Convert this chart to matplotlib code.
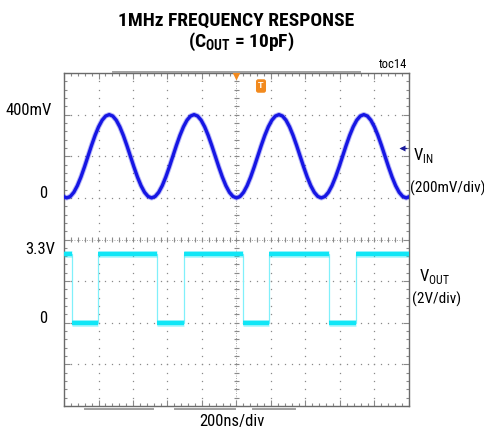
import numpy as np
import matplotlib
matplotlib.use('Agg')
import matplotlib.pyplot as plt
from matplotlib import transforms as mtransforms
from matplotlib import font_manager
from matplotlib.lines import Line2D

# pick a narrow sans font if one is installed, otherwise shrink Liberation Sans
NARROW = None
for cand in ['Liberation Sans Narrow', 'Roboto Condensed', 'Arial Narrow',
             'Nimbus Sans Narrow']:
    try:
        font_manager.findfont(font_manager.FontProperties(family=cand),
                              fallback_to_default=False)
        NARROW = cand
        break
    except Exception:
        pass
if NARROW:
    FONT = [NARROW, 'Liberation Sans', 'DejaVu Sans']
    K = 1.0
else:
    FONT = ['Liberation Sans', 'DejaVu Sans']
    K = 0.84
plt.rcParams['font.family'] = FONT

# ---------------- data ----------------
# V_IN trace: time (ns) and voltage (mV), 200mV/div, 200ns/div
sine_t = [-4.5,
          16, 36.5, 57, 77.5, 98, 118.5, 139, 159.5, 180, 200.5, 221, 241.5,
          262, 282.5, 303, 323.5, 344, 364.5, 385, 405.5, 426, 446.5, 467, 487.5,
          508, 528.5, 549, 569.5, 590, 610.5, 631, 651.5, 672, 692.5, 713, 733.5,
          754, 774.5, 795, 815.5, 836, 856.5, 877, 897.5, 918, 938.5, 959, 979.5,
          1000, 1020.5, 1041, 1061.5, 1082, 1102.5, 1123, 1143.5, 1164, 1184.5, 1205, 1225.5,
          1246, 1266.5, 1287, 1307.5, 1328, 1348.5, 1369, 1389.5, 1410, 1430.5, 1451, 1471.5,
          1492, 1512.5, 1533, 1553.5, 1574, 1594.5, 1615, 1635.5, 1656, 1676.5, 1697, 1717.5,
          1738, 1758.5, 1779, 1799.5, 1820, 1840.5, 1861, 1881.5, 1902, 1922.5, 1943, 1963.5,
          1984, 2004.5]
sine_mv = [6.8,
           0, 6.8, 26.8, 58.6, 100, 148.2, 200, 251.8, 300, 341.4, 373.2, 393.2,
           400, 393.2, 373.2, 341.4, 300, 251.8, 200, 148.2, 100, 58.6, 26.8, 6.8,
           0, 6.8, 26.8, 58.6, 100, 148.2, 200, 251.8, 300, 341.4, 373.2, 393.2,
           400, 393.2, 373.2, 341.4, 300, 251.8, 200, 148.2, 100, 58.6, 26.8, 6.8,
           0, 6.8, 26.8, 58.6, 100, 148.2, 200, 251.8, 300, 341.4, 373.2, 393.2,
           400, 393.2, 373.2, 341.4, 300, 251.8, 200, 148.2, 100, 58.6, 26.8, 6.8,
           0, 6.8, 26.8, 58.6, 100, 148.2, 200, 251.8, 300, 341.4, 373.2, 393.2,
           400, 393.2, 373.2, 341.4, 300, 251.8, 200, 148.2, 100, 58.6, 26.8, 6.8,
           0, 6.8]

# V_OUT trace: transition times (ns) and levels (V), 2V/div
out_edges = [0, 45, 199, 541, 696, 1036, 1190, 1535, 1691, 2000]
out_levels = [3.3, 0, 3.3, 0, 3.3, 0, 3.3, 0, 3.3]

in_labels = [(400, '400mV'), (0, '0')]
out_labels = [(3.3, '3.3V'), (0, '0')]

# ---------------- figure ----------------
W, H = 485, 433
fig = plt.figure(figsize=(W / 100, H / 100), dpi=100)


def fx(px):
    return px / W


def fy(py):
    return 1 - py / H


L, T, R, B = 64, 73, 409, 406
rect = [fx(L), fy(B), fx(R) - fx(L), fy(T) - fy(B)]

# graticule axes (in divisions)
ax = fig.add_axes(rect)
ax.set_xlim(0, 10)
ax.set_ylim(0, 8)
gcol = '#8a8a8a'
for s in ax.spines.values():
    s.set_color('#6a6a6a')
    s.set_linewidth(1.0)
ax.set_xticks(np.arange(0, 10.01, 1))
ax.set_yticks(np.arange(0, 8.01, 1))
ax.set_xticks(np.arange(0, 10.01, 0.2), minor=True)
ax.set_yticks(np.arange(0, 8.01, 0.2), minor=True)
ax.tick_params(which='both', direction='in', top=True, right=True,
               labelbottom=False, labelleft=False, color=gcol, width=0.8)
ax.tick_params(which='major', length=4)
ax.tick_params(which='minor', length=2.5)

sub_x = np.arange(0, 10.01, 0.2)
sub_y = np.arange(0, 8.01, 0.2)
for gx in range(1, 10):
    ax.plot(np.full_like(sub_y, gx), sub_y, ls='none', marker='s', ms=0.9,
            mec='none', mfc=gcol)
for gy in range(1, 8):
    ax.plot(sub_x, np.full_like(sub_x, gy), ls='none', marker='s', ms=0.9,
            mec='none', mfc=gcol)
# centre cross-hair tick marks
ax.vlines(sub_x, 4 - 0.06, 4 + 0.06, color=gcol, lw=0.8)
ax.hlines(sub_y, 5 - 0.07, 5 + 0.07, color=gcol, lw=0.8)
ax.axhline(4, color=gcol, lw=0.6, ls=(0, (1, 2)))
ax.axvline(5, color=gcol, lw=0.6, ls=(0, (1, 2)))

# trigger marker
ax.plot(5, 8 - 3 / 41.6, marker='v', ms=6, color='#f28a1e', mec='none',
        clip_on=False, zorder=5)
fig.text(fx(261), fy(86), 'T', ha='center', va='center', color='white',
         fontsize=6.5, weight='bold', family=['Liberation Sans', 'DejaVu Sans'],
         bbox=dict(boxstyle='round,pad=0.25', fc='#f28a1e', ec='none'))

# channel axes
ax_in = fig.add_axes(rect, frameon=False)
ax_in.set_xlim(0, 2000)
ax_in.set_ylim(-1000, 600)
ax_in.axis('off')

ax_out = fig.add_axes(rect, frameon=False)
ax_out.set_xlim(0, 2000)
ax_out.set_ylim(-4, 12)
ax_out.axis('off')

blue = '#1616e4'
cyan = '#10e6f6'
ax_in.plot(sine_t, sine_mv, color=blue, lw=3.8, alpha=0.3,
           solid_joinstyle='round')
ax_in.plot(sine_t, sine_mv, color=blue, lw=2.4, solid_joinstyle='round')

ax_out.stairs(out_levels, out_edges, color='#80f0fb', lw=0.9, baseline=None)
ax_out.hlines(out_levels, out_edges[:-1], out_edges[1:], color=cyan, lw=5,
              alpha=0.3)
ax_out.hlines(out_levels, out_edges[:-1], out_edges[1:], color=cyan, lw=3.2)

# left level labels
FS = 12 * K
FS2 = 11 * K
tr_in = mtransforms.blended_transform_factory(fig.transFigure, ax_in.transData)
tr_out = mtransforms.blended_transform_factory(fig.transFigure, ax_out.transData)
for (val, txt), xp in zip(in_labels, [52, 47]):
    ax_in.text(fx(xp), val, txt, transform=tr_in, ha='right', va='baseline',
               fontsize=FS, clip_on=False)
for (val, txt), xp in zip(out_labels, [55, 47]):
    ax_out.text(fx(xp), val, txt, transform=tr_out, ha='right', va='baseline',
                fontsize=FS, clip_on=False)

# right labels
fig.text(fx(413), fy(160), r'V$_{\mathregular{IN}}$', ha='left', va='baseline',
         fontsize=FS)
fig.text(fx(410), fy(192.5), '(200mV/div)', ha='left', va='baseline',
         fontsize=FS2)
fig.text(fx(419.5), fy(281.5), r'V$_{\mathregular{OUT}}$', ha='left',
         va='baseline', fontsize=FS)
fig.text(fx(412), fy(304), '(2V/div)', ha='left', va='baseline', fontsize=FS2)

# channel offset arrow
fig.add_artist(Line2D([fx(401.5), fx(406)], [fy(148), fy(148)], color='#1a1a9a',
                      lw=0.9))
fig.add_artist(Line2D([fx(402)], [fy(148)], marker='<', ms=4, color='#1a1a9a',
                      mec='none', ls='none'))

# titles and misc
TS = 14 * K
fig.text(fx(236), fy(25.8), '1MHz FREQUENCY RESPONSE', ha='center',
         va='baseline', fontsize=TS, weight='bold')
fig.text(fx(241.5), fy(47), r'(C$_{\mathregular{OUT}}$ = 10pF)', ha='center',
         va='baseline', fontsize=TS, weight='bold')
fig.text(fx(407), fy(68), 'toc14', ha='right', va='baseline', fontsize=9 * K)
fig.text(fx(232), fy(426), '200ns/div', ha='center', va='baseline', fontsize=FS)

# scope status bars
for (x0, x1, yy) in [(113, 360, 71.5), (85, 153, 408.5), (175, 235, 408.5),
                     (253, 295, 408.5)]:
    fig.add_artist(Line2D([fx(x0), fx(x1)], [fy(yy), fy(yy)], color='#a0a0a0',
                          lw=1.4))

fig.savefig('out.png', dpi=100)
